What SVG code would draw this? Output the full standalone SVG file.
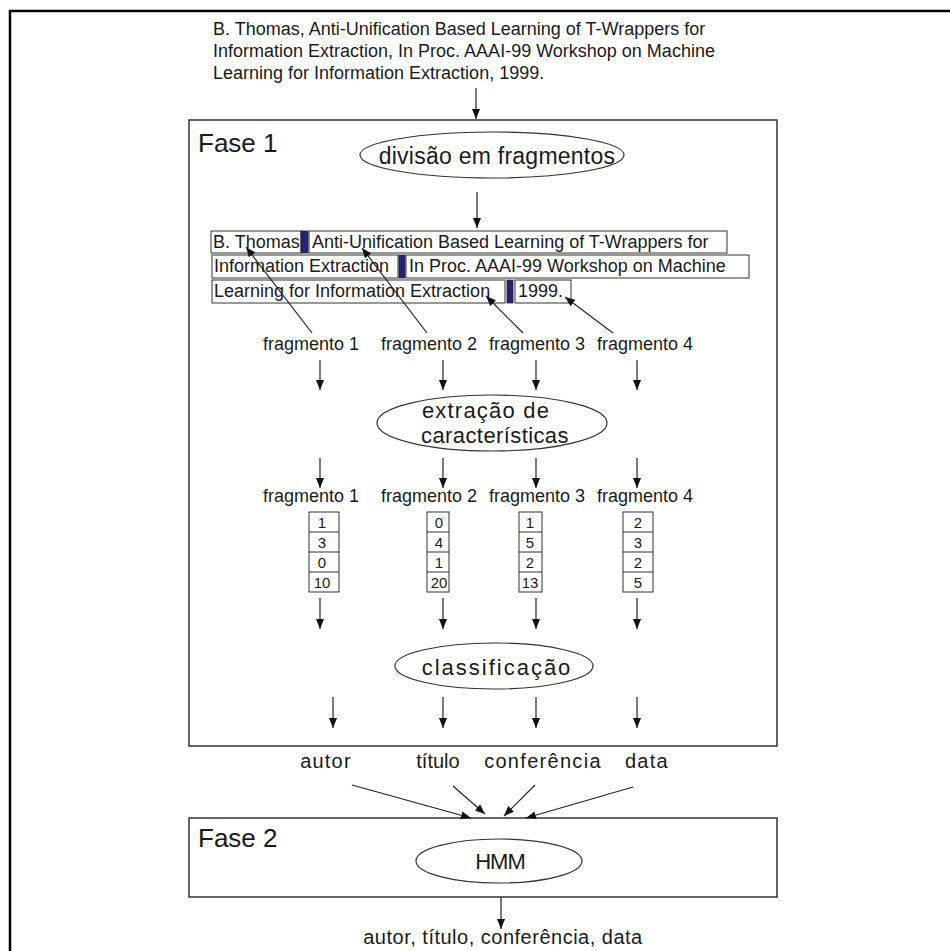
<svg xmlns="http://www.w3.org/2000/svg" width="950" height="951" viewBox="0 0 950 951">
<defs>
<marker id="ah" markerWidth="10" markerHeight="10" refX="10" refY="5" orient="auto" markerUnits="userSpaceOnUse"><path d="M0,1 L10,5 L0,9 z" fill="#111"/></marker>
<style>
text{font-family:"Liberation Sans",Arial,Helvetica,sans-serif;fill:#1a1a1a}
.s18{font-size:18px}
.fr{fill:#fff;stroke:#333;stroke-width:1}
.sep{fill:#23237a;stroke:#222;stroke-width:0.8}
.phase{fill:#fff;stroke:#333;stroke-width:1.5}
.ell{fill:#fff;stroke:#333;stroke-width:1.2}
.vec{fill:#fff;stroke:#333;stroke-width:1}
.num{font-size:15px;text-anchor:middle}
.lbl{font-size:18px;text-anchor:middle}
#connectors line{stroke:#222;stroke-width:1.2;marker-end:url(#ah)}
</style>
</defs>
<rect width="950" height="951" fill="#fff"/>
<path d="M10,951 V11 H950" fill="none" stroke="#000" stroke-width="2.5"/>

<g id="source-text" class="s18">
<text x="213" y="35">B. Thomas, Anti-Unification Based Learning of T-Wrappers for</text>
<text x="213" y="57">Information Extraction, In  Proc. AAAI-99 Workshop on Machine</text>
<text x="213" y="79">Learning for Information Extraction, 1999.</text>
</g>

<g id="fase1">
<rect class="phase" x="189" y="120" width="588" height="626"/>
<text x="198" y="152" font-size="26">Fase 1</text>
</g>

<g id="divisao">
<ellipse class="ell" cx="492" cy="155" rx="132" ry="23"/>
<text x="497" y="164" font-size="23" text-anchor="middle" letter-spacing="0.25">divisão em fragmentos</text>
</g>

<g id="fragments" class="s18">
<rect class="fr" x="211" y="231" width="90" height="22"/>
<text x="213" y="248">B. Thomas</text>
<rect class="sep" x="301" y="231" width="7" height="22"/>
<rect class="fr" x="309" y="231" width="418" height="22"/>
<text x="312" y="248">Anti-Unification Based Learning of T-Wrappers for</text>
<rect class="fr" x="212" y="255" width="186" height="23"/>
<text x="214" y="272">Information Extraction</text>
<rect class="sep" x="399" y="255" width="6" height="23"/>
<rect class="fr" x="406" y="255" width="343" height="23"/>
<text x="409" y="272">In  Proc. AAAI-99 Workshop on Machine</text>
<rect class="fr" x="212" y="280" width="293" height="23"/>
<text x="214" y="297">Learning for Information Extraction</text>
<rect class="sep" x="507" y="280" width="6" height="23"/>
<rect class="fr" x="515" y="280" width="56" height="23"/>
<text x="518" y="297">1999.</text>
</g>

<g id="labels1">
<text class="lbl" x="311" y="350">fragmento 1</text>
<text class="lbl" x="429" y="350">fragmento 2</text>
<text class="lbl" x="537" y="350">fragmento 3</text>
<text class="lbl" x="645" y="350">fragmento 4</text>
</g>

<g id="extracao">
<ellipse class="ell" cx="492" cy="423" rx="115" ry="28"/>
<text x="486" y="418" font-size="22" text-anchor="middle" letter-spacing="1.2">extração de</text>
<text x="495" y="443" font-size="22" text-anchor="middle" letter-spacing="0.4">características</text>
</g>

<g id="labels2">
<text class="lbl" x="311" y="502">fragmento 1</text>
<text class="lbl" x="429" y="502">fragmento 2</text>
<text class="lbl" x="537" y="502">fragmento 3</text>
<text class="lbl" x="645" y="502">fragmento 4</text>
</g>

<g id="vector1">
<rect class="vec" x="309" y="512" width="30" height="80"/>
<path d="M309,532 H339 M309,552 H339 M309,572 H339" stroke="#333"/>
<text class="num" x="322" y="528">1</text><text class="num" x="322" y="548">3</text><text class="num" x="322" y="568">0</text><text class="num" x="322" y="588">10</text>
</g>
<g id="vector2">
<rect class="vec" x="427" y="512" width="22" height="80"/>
<path d="M427,532 H449 M427,552 H449 M427,572 H449" stroke="#333"/>
<text class="num" x="439" y="528">0</text><text class="num" x="439" y="548">4</text><text class="num" x="439" y="568">1</text><text class="num" x="439" y="588">20</text>
</g>
<g id="vector3">
<rect class="vec" x="519" y="512" width="23" height="80"/>
<path d="M519,532 H542 M519,552 H542 M519,572 H542" stroke="#333"/>
<text class="num" x="530" y="528">1</text><text class="num" x="530" y="548">5</text><text class="num" x="530" y="568">2</text><text class="num" x="530" y="588">13</text>
</g>
<g id="vector4">
<rect class="vec" x="623" y="512" width="30" height="80"/>
<path d="M623,532 H653 M623,552 H653 M623,572 H653" stroke="#333"/>
<text class="num" x="638" y="528">2</text><text class="num" x="638" y="548">3</text><text class="num" x="638" y="568">2</text><text class="num" x="638" y="588">5</text>
</g>

<g id="classificacao">
<ellipse class="ell" cx="494" cy="666" rx="99" ry="23"/>
<text x="497" y="675" font-size="22" text-anchor="middle" letter-spacing="2">classificação</text>
</g>

<g id="classes" font-size="20">
<text x="326" y="768" text-anchor="middle" letter-spacing="1.2">autor</text>
<text x="438" y="768" text-anchor="middle">título</text>
<text x="543" y="768" text-anchor="middle" letter-spacing="1.3">conferência</text>
<text x="647" y="768" text-anchor="middle" letter-spacing="1.3">data</text>
</g>

<g id="fase2">
<rect class="phase" x="189" y="818" width="588" height="79"/>
<text x="198" y="847" font-size="26">Fase 2</text>
</g>

<g id="hmm">
<ellipse class="ell" cx="499" cy="861" rx="83" ry="22"/>
<text x="500" y="869" font-size="22" text-anchor="middle" letter-spacing="-1">HMM</text>
</g>

<g id="output">
<text x="503" y="944" font-size="20" text-anchor="middle" letter-spacing="0.5">autor, título, conferência, data</text>
</g>

<g id="connectors">
<line x1="476" y1="88" x2="476" y2="119"/>
<line x1="477" y1="192" x2="477" y2="228"/>
<line x1="312" y1="333" x2="246" y2="247"/>
<line x1="427" y1="333" x2="362" y2="248"/>
<line x1="523" y1="333" x2="486" y2="296"/>
<line x1="613" y1="333" x2="565" y2="297"/>
<line x1="320" y1="360" x2="320" y2="390"/>
<line x1="443" y1="360" x2="443" y2="390"/>
<line x1="536" y1="360" x2="536" y2="390"/>
<line x1="637" y1="360" x2="637" y2="390"/>
<line x1="320" y1="458" x2="320" y2="488"/>
<line x1="443" y1="458" x2="443" y2="488"/>
<line x1="536" y1="458" x2="536" y2="488"/>
<line x1="637" y1="458" x2="637" y2="488"/>
<line x1="320" y1="598" x2="320" y2="629"/>
<line x1="443" y1="598" x2="443" y2="629"/>
<line x1="536" y1="598" x2="536" y2="629"/>
<line x1="637" y1="598" x2="637" y2="629"/>
<line x1="333" y1="697" x2="333" y2="728"/>
<line x1="443" y1="697" x2="443" y2="728"/>
<line x1="536" y1="697" x2="536" y2="728"/>
<line x1="637" y1="697" x2="637" y2="728"/>
<line x1="352" y1="785" x2="471" y2="818"/>
<line x1="453" y1="786" x2="485" y2="814"/>
<line x1="535" y1="785" x2="504" y2="816"/>
<line x1="633" y1="787" x2="526" y2="818"/>
<line x1="501" y1="897" x2="501" y2="929"/>
</g>
</svg>
